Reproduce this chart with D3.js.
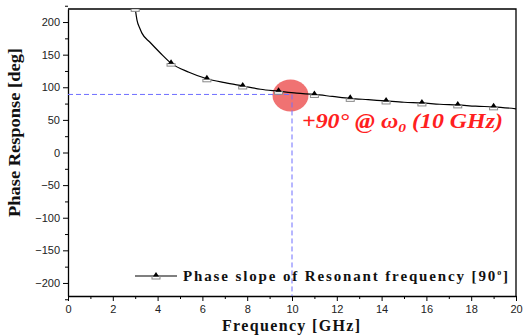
<!DOCTYPE html>
<html lang="en">
<head>
    <meta charset="UTF-8">
    <title>Phase Response</title>
    <script src="https://cdn.jsdelivr.net/npm/d3@7"></script>
    <style>
        body { margin: 0; background: #fff; }
        .tick text { font-family: "Liberation Sans", Arial, sans-serif; font-size: 11px; fill: #222; }
        .domain, .tick line { stroke: #000; }
    </style>
</head>
<body>
    <script>
        // curve (GHz, deg)
        var freq  = [3.0, 3.08, 3.21, 3.3, 3.66, 4.11, 4.6, 5.4, 6.2, 7.0, 7.8, 8.6, 9.4, 10.2, 11.0, 11.8, 12.6, 13.4, 14.2, 15.0, 15.8, 16.6, 17.4, 18.2, 19.0, 20.0];
        var phase = [221, 203, 190, 183, 169, 153, 137, 123, 113, 107, 102, 97, 94, 91, 89, 86, 83, 81, 79, 77, 76, 74, 73, 71, 70, 67];
        var markerFreq = [3.0, 4.6, 6.2, 7.8, 9.4, 11.0, 12.6, 14.2, 15.8, 17.4, 19.0];
        var xTicks = [0, 2, 4, 6, 8, 10, 12, 14, 16, 18, 20];
        var yTicks = [200, 150, 100, 50, 0, -50, -100, -150, -200];
        var resonance = { f: 10, p: 89 };

        var data = freq.map((f, i) => ({ f: f, p: phase[i] }));
        var marks = data.filter(d => markerFreq.indexOf(d.f) >= 0);

        var W = 523, H = 336;
        var pLeft = 68, pRight = 516, pTop = 9, pBottom = 296;

        var x = d3.scaleLinear().domain([0, 20]).range([pLeft, pRight]);
        var y = d3.scaleLinear().domain([-220, 220]).range([pBottom, pTop]);

        var svg = d3.select("body").append("svg")
            .attr("width", W)
            .attr("height", H);

        svg.append("defs").append("clipPath").attr("id", "plot")
            .append("rect")
            .attr("x", pLeft).attr("y", pTop)
            .attr("width", pRight - pLeft).attr("height", pBottom - pTop);

        // frame top/right
        svg.append("path")
            .attr("d", `M${pLeft},${pTop}H${pRight}V${pBottom}`)
            .attr("fill", "none")
            .attr("stroke", "#000")
            .attr("stroke-width", 1.3);

        // minor ticks
        svg.append("g")
            .attr("transform", `translate(0,${pBottom})`)
            .call(d3.axisBottom(x).tickValues(d3.range(1, 20, 2)).tickSize(3).tickFormat(""))
            .call(g => g.select(".domain").remove());
        svg.append("g")
            .attr("transform", `translate(${pLeft},0)`)
            .call(d3.axisLeft(y).tickValues(d3.range(-225, 226, 50)).tickSize(3).tickFormat(""))
            .call(g => g.select(".domain").remove());

        svg.append("g")
            .attr("transform", `translate(0,${pBottom})`)
            .call(d3.axisBottom(x).tickValues(xTicks).tickSize(5).tickSizeOuter(0).tickPadding(4))
            .call(g => g.select(".domain").attr("stroke-width", 1.3));

        svg.append("g")
            .attr("transform", `translate(${pLeft},0)`)
            .call(d3.axisLeft(y).tickValues(yTicks).tickSize(5).tickSizeOuter(0).tickPadding(3))
            .call(g => g.select(".domain").attr("stroke-width", 1.3));

        var plot = svg.append("g").attr("clip-path", "url(#plot)");

        // highlight at resonance
        plot.append("ellipse")
            .attr("cx", x(resonance.f) - 1.5)
            .attr("cy", y(resonance.p) + 1)
            .attr("rx", 18)
            .attr("ry", 16)
            .attr("fill", "#f07272");

        // dashed guide lines
        plot.append("path")
            .attr("d", `M${pLeft},${y(resonance.p)}H${x(resonance.f)}V${pBottom}`)
            .attr("fill", "none")
            .attr("stroke", "#6f6fff")
            .attr("stroke-width", 1)
            .attr("stroke-dasharray", "5,3");

        var line = d3.line()
            .x(d => x(d.f))
            .y(d => y(d.p))
            .curve(d3.curveMonotoneX);

        plot.append("path")
            .datum(data)
            .attr("d", line)
            .attr("fill", "none")
            .attr("stroke", "#000")
            .attr("stroke-width", 1.2);

        function marker(g, cx, cy) {
            g.append("rect")
                .attr("x", cx - 4).attr("y", cy + 0.5)
                .attr("width", 8).attr("height", 2.5)
                .attr("fill", "#fff")
                .attr("stroke", "#888")
                .attr("stroke-width", 1);
            g.append("path")
                .attr("d", `M${cx - 3},${cy + 0.5}L${cx},${cy - 4}L${cx + 3},${cy + 0.5}Z`)
                .attr("fill", "#000");
        }

        marks.forEach(d => marker(plot, x(d.f), y(d.p)));

        // annotation
        var ann = svg.append("text")
            .attr("x", 302)
            .attr("y", 128)
            .attr("textLength", 201)
            .attr("lengthAdjust", "spacingAndGlyphs")
            .attr("font-family", "Liberation Serif, Times New Roman, serif")
            .attr("font-weight", "bold")
            .attr("font-style", "italic")
            .attr("font-size", 20)
            .attr("fill", "#ff1f1f");
        ann.append("tspan").text("+90° @ ω");
        ann.append("tspan").attr("dy", 4).attr("font-size", 13).text("0");
        ann.append("tspan").attr("dy", -4).text(" (10 GHz)");

        // legend
        var ly = 276;
        svg.append("line")
            .attr("x1", 135).attr("x2", 177)
            .attr("y1", ly).attr("y2", ly)
            .attr("stroke", "#000").attr("stroke-width", 1.2);
        marker(svg, 156, ly);
        var leg = svg.append("text")
            .attr("x", 183)
            .attr("y", ly + 5)
            .attr("textLength", 325)
            .attr("lengthAdjust", "spacing")
            .attr("font-family", "Liberation Serif, Times New Roman, serif")
            .attr("font-weight", "bold")
            .attr("font-size", 15)
            .attr("fill", "#111");
        leg.append("tspan").text("Phase slope of Resonant frequency [90");
        leg.append("tspan").attr("dy", -6).attr("font-size", 8).text("o");
        leg.append("tspan").attr("dy", 6).text("]");

        // axis titles
        svg.append("text")
            .attr("x", 222)
            .attr("y", 331)
            .attr("textLength", 138)
            .attr("lengthAdjust", "spacing")
            .attr("font-family", "Liberation Serif, Times New Roman, serif")
            .attr("font-weight", "bold")
            .attr("font-size", 16)
            .attr("fill", "#111")
            .text("Frequency [GHz]");

        svg.append("text")
            .attr("transform", "translate(19.5,217) rotate(-90)")
            .attr("textLength", 169)
            .attr("lengthAdjust", "spacingAndGlyphs")
            .attr("font-family", "Liberation Serif, Times New Roman, serif")
            .attr("font-weight", "bold")
            .attr("font-size", 16)
            .attr("fill", "#111")
            .text("Phase Response [deg]");
    </script>
</body>
</html>
